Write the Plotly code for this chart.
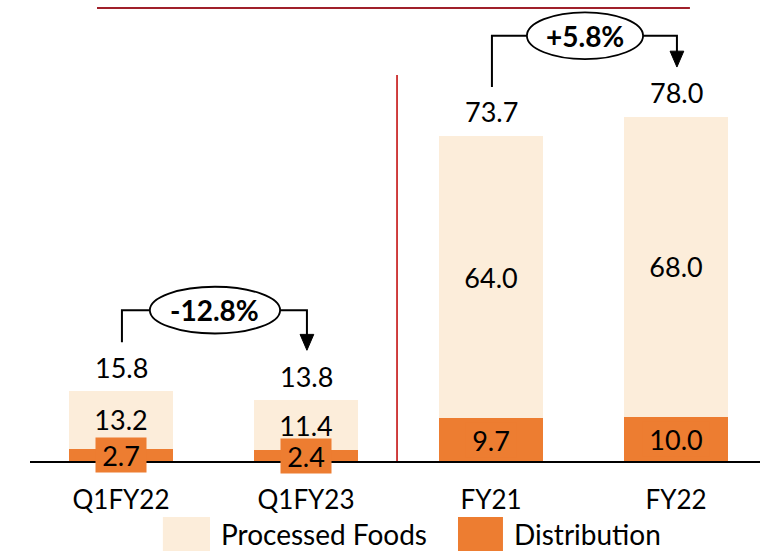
import plotly.graph_objects as go

# Revenue split by segment
categories = ["Q1FY22", "Q1FY23", "FY21", "FY22"]
distribution = [2.7, 2.4, 9.7, 10.0]
processed_foods = [13.2, 11.4, 64.0, 68.0]
totals = [15.8, 13.8, 73.7, 78.0]

# Period-on-period growth callouts: (from index, to index, label)
growth = [(0, 1, "-12.8%"), (2, 3, "+5.8%")]

FONT = "Lato"
LIGHT = "#FCEDDA"
ORANGE = "#ED7D31"
x = list(range(len(categories)))

fig = go.Figure()
fig.add_trace(go.Bar(
    x=x, y=distribution, name="Distribution", width=0.557,
    marker=dict(color=ORANGE, line=dict(width=0)),
    hoverinfo="skip",
))
fig.add_trace(go.Bar(
    x=x, y=processed_foods, name="Processed Foods", width=0.557,
    marker=dict(color=LIGHT, line=dict(width=0)),
    text=[f"{v:.1f}" for v in processed_foods], textposition="inside",
    insidetextanchor="middle", constraintext="none",
    textfont=dict(family=FONT, size=27, color="black"),
    hoverinfo="skip",
))

annotations = []
shapes = []

# totals above each stack
for xi, t in zip(x, totals):
    annotations.append(dict(x=xi, y=t, text=f"{t:.1f}", showarrow=False,
                            yanchor="middle", yshift=24,
                            font=dict(family=FONT, size=27, color="black")))

# distribution values on orange tags
for xi, d in zip(x, distribution):
    txt = f"{d:.1f}"
    annotations.append(dict(x=xi, y=d / 2, text=txt, showarrow=False,
                            bgcolor=ORANGE, borderpad=1, width=16 * len(txt), height=32,
                            font=dict(family=FONT, size=27, color="black")))

# growth brackets with oval labels
for a, b, label in growth:
    y_start = totals[a] + 11.1
    y_tip = totals[b] + 11.3
    y_bar = max(totals[a], totals[b]) + 18.4
    cx = (a + b) / 2 + 0.008
    half_w = 0.124 + 0.038 * len(label)
    half_h = 5.3
    shapes.append(dict(type="path", xref="x", yref="y",
                       path=(f"M{a + 0.005},{y_start} V{y_bar} H{cx - half_w} "
                             f"M{cx + half_w},{y_bar} H{b + 0.005} V{y_tip + 3.0}"),
                       line=dict(color="black", width=2)))
    shapes.append(dict(type="path", xref="x", yref="y",
                       path=(f"M{b + 0.005 - 0.037},{y_tip + 3.6} "
                             f"L{b + 0.005 + 0.037},{y_tip + 3.6} L{b + 0.005},{y_tip} Z"),
                       fillcolor="black", line=dict(color="black", width=1)))
    shapes.append(dict(type="circle", xref="x", yref="y",
                       x0=cx - half_w, x1=cx + half_w,
                       y0=y_bar - half_h, y1=y_bar + half_h,
                       fillcolor="white", line=dict(color="black", width=1.8)))
    annotations.append(dict(x=cx, y=y_bar, text=f"<b>{label}</b>", showarrow=False,
                            font=dict(family=FONT, size=28, color="black")))

# separator between quarterly and annual groups
shapes.append(dict(type="line", xref="x", yref="y", x0=1.492, x1=1.492, y0=0, y1=87.5,
                   line=dict(color="#C00000", width=1.5)))
# header rule
shapes.append(dict(type="line", xref="paper", yref="paper", x0=0.0918, x1=0.904,
                   y0=0.9826, y1=0.9826, line=dict(color="#A0202A", width=2)))

# legend drawn below the axis
legend_items = [("Processed Foods", LIGHT, 0.182, 0.2466, 0.2600),
                ("Distribution", ORANGE, 0.5863, 0.6479, 0.6620)]
for name, color, s0, s1, tx in legend_items:
    shapes.append(dict(type="rect", xref="paper", yref="paper", x0=s0, x1=s1,
                       y0=-0.197, y1=-0.1215, fillcolor=color, line=dict(width=0)))
    annotations.append(dict(xref="paper", yref="paper", x=tx, y=-0.158, text=name,
                            showarrow=False, xanchor="left", yanchor="middle",
                            borderpad=0,
                            font=dict(family=FONT, size=28, color="black")))

fig.update_layout(
    barmode="stack",
    width=765, height=551,
    margin=dict(l=30, r=5, t=0, b=90),
    paper_bgcolor="white", plot_bgcolor="white",
    showlegend=False,
    annotations=annotations,
    shapes=shapes,
    xaxis=dict(range=[-0.4919, 3.454], tickvals=x, ticktext=categories,
               showgrid=False, zeroline=False, showline=True, linecolor="black",
               linewidth=1.5, ticks="", ticklabelstandoff=15,
               tickfont=dict(family=FONT, size=26, color="black"), fixedrange=True),
    yaxis=dict(range=[0, 104.5], visible=False, fixedrange=True),
)

fig.write_html("out.html")
